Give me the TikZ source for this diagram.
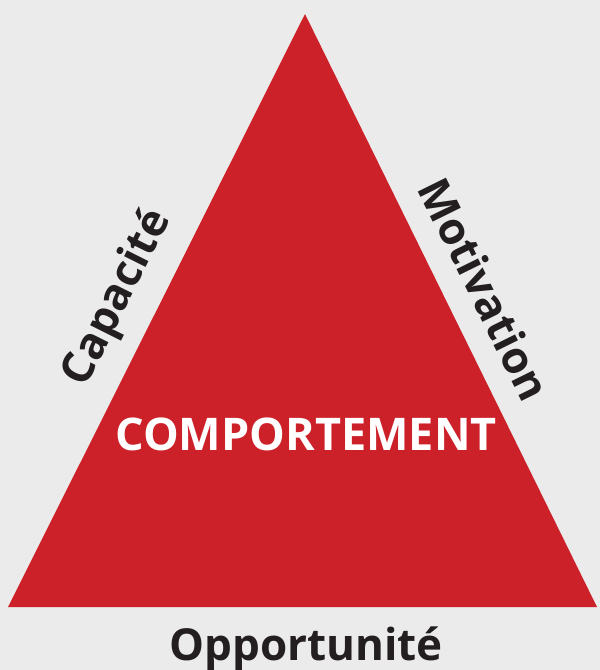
\documentclass[tikz,border=0pt]{standalone}
\usepackage{fontspec}
\setmainfont{Open Sans}
\definecolor{bgcol}{RGB}{235,235,235}
\definecolor{redcol}{RGB}{205,33,42}
\definecolor{txtcol}{RGB}{35,31,32}
\begin{document}
\begin{tikzpicture}[x=1pt,y=-1pt,
  lbl/.style={font=\fontsize{44}{50}\selectfont\bfseries, text=txtcol, inner sep=0pt},
  mainlbl/.style={font=\fontsize{45}{50}\selectfont\bfseries, text=white, inner sep=0pt}]
\fill[bgcol] (0,0) rectangle (600,670);
\useasboundingbox (0,0) rectangle (600,670);
\coordinate (top) at (305,14);
\coordinate (bl) at (8,607);
\coordinate (br) at (597,607);
\fill[redcol] (top) -- (bl) -- (br) -- cycle;
\node[mainlbl] (comp) at (306,434) {COMPORTEMENT};
\node[lbl, rotate=63.4] (cap) at (118,298) {Capacité};
\node[lbl, rotate=-63.7] (mot) at (485,289) {Motivation};
\node[lbl, anchor=base] (opp) at (306,660) {Opportunité};
\end{tikzpicture}
\end{document}
